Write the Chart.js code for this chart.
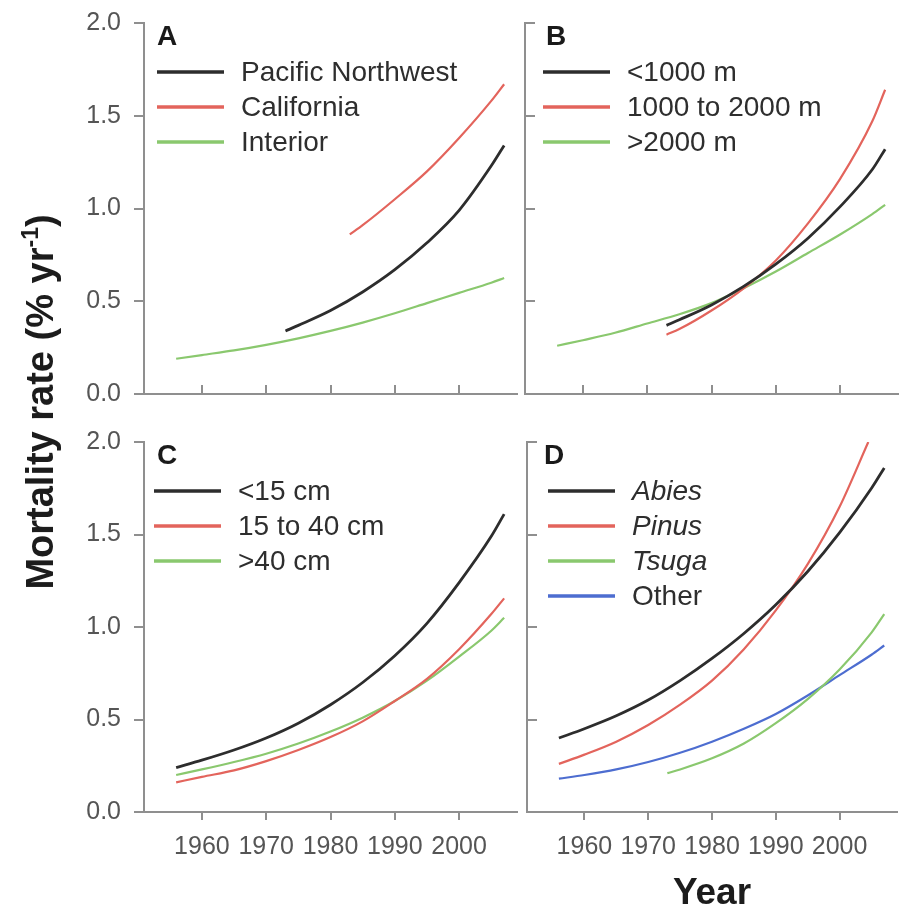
<!DOCTYPE html>
<html>
<head>
<meta charset="utf-8">
<script src="https://cdn.jsdelivr.net/npm/chart.js@4.4.0/dist/chart.umd.min.js"></script>
<style>
  html, body { margin: 0; padding: 0; background: #fff; }
  #wrap { position: relative; width: 906px; height: 912px; overflow: hidden; }
  canvas { position: absolute; }
  #ytitle {
    position: absolute; left: -211px; top: 382px; width: 500px; height: 40px;
    line-height: 40px; text-align: center; white-space: nowrap;
    font: bold 38px "Liberation Sans", Arial, sans-serif; color: #1c1c1c;
    transform: rotate(-90deg); transform-origin: 50% 50%;
  }
  #ytitle sup { font-size: 23px; line-height: 0; vertical-align: 15px; }
</style>
</head>
<body>
<div id="wrap">
  <canvas id="panelA" width="530" height="420" style="left:0;top:0"></canvas>
  <canvas id="panelB" width="453" height="420" style="left:453px;top:0"></canvas>
  <canvas id="panelC" width="530" height="492" style="left:0;top:420px"></canvas>
  <canvas id="panelD" width="453" height="492" style="left:453px;top:420px"></canvas>
  <div id="ytitle">Mortality rate (% yr<sup>-1</sup>)</div>
</div>
<script>
// axis ticks
var yearTicks = [1960, 1970, 1980, 1990, 2000];
var rateTicks = [0, 0.5, 1.0, 1.5, 2.0];

// years at which the fitted curves were read
var fullYears  = [1956, 1960, 1965, 1970, 1975, 1980, 1985, 1990, 1995, 2000, 2005, 2007];
var lateYears  = [1973, 1975, 1980, 1985, 1990, 1995, 2000, 2005, 2007];
var caYears    = [1983, 1985, 1990, 1995, 2000, 2005, 2007];
var pinusYears = [1956, 1960, 1965, 1970, 1975, 1980, 1985, 1990, 1995, 2000, 2004.5];

// A - region
var pnwRate      = [0.34, 0.37, 0.45, 0.55, 0.67, 0.815, 0.99, 1.23, 1.34];
var caRate       = [0.86, 0.91, 1.05, 1.20, 1.38, 1.58, 1.67];
var interiorRate = [0.19, 0.21, 0.235, 0.265, 0.30, 0.34, 0.385, 0.435, 0.49, 0.545, 0.60, 0.625];

// B - elevation
var lowElevRate  = [0.37, 0.40, 0.48, 0.58, 0.70, 0.84, 1.01, 1.21, 1.32];
var midElevRate  = [0.32, 0.35, 0.45, 0.57, 0.72, 0.92, 1.16, 1.47, 1.64];
var highElevRate = [0.26, 0.29, 0.33, 0.38, 0.43, 0.49, 0.57, 0.66, 0.76, 0.86, 0.97, 1.02];

// C - tree size
var smallRate = [0.24, 0.28, 0.335, 0.40, 0.48, 0.58, 0.70, 0.845, 1.02, 1.24, 1.49, 1.61];
var medRate   = [0.16, 0.19, 0.225, 0.275, 0.335, 0.405, 0.49, 0.60, 0.72, 0.88, 1.07, 1.155];
var largeRate = [0.20, 0.23, 0.27, 0.315, 0.37, 0.435, 0.51, 0.60, 0.71, 0.84, 0.98, 1.05];

// D - genus
var abiesRate = [0.40, 0.45, 0.52, 0.605, 0.71, 0.83, 0.965, 1.12, 1.30, 1.51, 1.75, 1.86];
var pinusRate = [0.26, 0.31, 0.38, 0.47, 0.58, 0.71, 0.88, 1.09, 1.34, 1.65, 2.0];
var tsugaRate = [0.21, 0.23, 0.29, 0.37, 0.48, 0.61, 0.77, 0.97, 1.07];
var otherRate = [0.18, 0.20, 0.23, 0.27, 0.32, 0.38, 0.45, 0.53, 0.63, 0.74, 0.85, 0.90];

var black = '#2d2d2d', red = '#e3645c', green = '#8ac86e', blue = '#4d6dd0';
var axisColor = '#8f8f8f';

Chart.defaults.font.family = '"Liberation Sans", Arial, sans-serif';
Chart.defaults.devicePixelRatio = 1;

function pts(years, rates) {
    return years.map(function (yr, i) { return {x: yr, y: rates[i]}; });
}

function series(label, years, rates, color, italic) {
    return {
        label: label,
        data: pts(years, rates),
        borderColor: color,
        borderWidth: color === black ? 2.8 : 2.2,
        pointRadius: 0,
        cubicInterpolationMode: 'monotone',
        italic: !!italic
    };
}

// panel letter + legend drawn inside the plot, top-left
var panelLegend = {
    id: 'panelLegend',
    afterDatasetsDraw: function (chart, args, opts) {
        var ctx = chart.ctx, a = chart.chartArea;
        ctx.save();
        ctx.fillStyle = '#1a1a1a';
        ctx.font = 'bold 28px "Liberation Sans", Arial, sans-serif';
        ctx.textBaseline = 'alphabetic';
        ctx.fillText(opts.letter, a.left + opts.letterX, a.top + 22);
        chart.data.datasets.forEach(function (ds, i) {
            var y = a.top + 49 + i * 35;
            var x0 = a.left + opts.lineX;
            ctx.strokeStyle = ds.borderColor;
            ctx.lineWidth = 3.5;
            ctx.beginPath();
            ctx.moveTo(x0, y);
            ctx.lineTo(x0 + 67, y);
            ctx.stroke();
            ctx.fillStyle = '#2e2e2e';
            ctx.font = (ds.italic ? 'italic ' : '') + '28px "Liberation Sans", Arial, sans-serif';
            ctx.textBaseline = 'middle';
            ctx.fillText(ds.label, x0 + 84, y + 1);
        });
        ctx.restore();
    }
};

function makePanel(id, p) {
    return new Chart(document.getElementById(id), {
        type: 'line',
        data: {datasets: p.datasets},
        plugins: [panelLegend],
        options: {
            responsive: false,
            animation: false,
            layout: {padding: {top: p.top, right: p.right, left: 0, bottom: 0}},
            plugins: {
                legend: {display: false},
                tooltip: {enabled: false},
                panelLegend: {letter: p.letter, letterX: p.letterX, lineX: p.lineX}
            },
            scales: {
                x: {
                    type: 'linear',
                    min: 1951,
                    max: 2009,
                    afterBuildTicks: function (s) { s.ticks = yearTicks.map(function (v) { return {value: v}; }); },
                    afterFit: function (s) { s.height = p.xHeight; s.paddingLeft = 0; s.paddingRight = 0; },
                    border: {color: axisColor, width: 2},
                    grid: {drawOnChartArea: false, drawTicks: true, tickLength: p.xInward ? -9 : 8, color: axisColor, lineWidth: 2},
                    ticks: {display: p.xLabels, autoSkip: false, maxRotation: 0, padding: 12, color: '#555', font: {size: 25},
                            callback: function (v) { return String(v); }},
                    title: {display: !!p.xTitle, text: p.xTitle || '', color: '#1c1c1c', padding: 0,
                            font: {size: 37, weight: 'bold', lineHeight: 1.0}}
                },
                y: {
                    min: 0,
                    max: 2,
                    afterBuildTicks: function (s) { s.ticks = rateTicks.map(function (v) { return {value: v}; }); },
                    afterFit: function (s) { s.width = p.yWidth; s.paddingTop = 0; s.paddingBottom = 0; },
                    border: {color: axisColor, width: 2},
                    grid: {drawOnChartArea: false, drawTicks: true, tickLength: p.yInward ? -10 : 10, color: axisColor, lineWidth: 2},
                    ticks: {display: p.yLabels, padding: 13, color: '#555', font: {size: 25},
                            callback: function (v) { return v.toFixed(1); }}
                }
            }
        }
    });
}

makePanel('panelA', {
    letter: 'A', letterX: 13, lineX: 13,
    top: 23, right: 13, yWidth: 144, xHeight: 26, xInward: true, yInward: false, xLabels: false, yLabels: true,
    datasets: [
        series('Pacific Northwest', lateYears, pnwRate, black),
        series('California', caYears, caRate, red),
        series('Interior', fullYears, interiorRate, green)
    ]
});

makePanel('panelB', {
    letter: 'B', letterX: 21, lineX: 18,
    top: 23, right: 8, yWidth: 72, xHeight: 26, xInward: true, yInward: true, xLabels: false, yLabels: false,
    datasets: [
        series('<1000 m', lateYears, lowElevRate, black),
        series('1000 to 2000 m', lateYears, midElevRate, red),
        series('>2000 m', fullYears, highElevRate, green)
    ]
});

makePanel('panelC', {
    letter: 'C', letterX: 13, lineX: 10,
    top: 22, right: 13, yWidth: 144, xHeight: 100, xInward: false, yInward: false, xLabels: true, yLabels: true,
    datasets: [
        series('<15 cm', fullYears, smallRate, black),
        series('15 to 40 cm', fullYears, medRate, red),
        series('>40 cm', fullYears, largeRate, green)
    ]
});

makePanel('panelD', {
    letter: 'D', letterX: 17, lineX: 21,
    top: 22, right: 9, yWidth: 74, xHeight: 100, xInward: false, yInward: true, xLabels: true, yLabels: false,
    xTitle: 'Year',
    datasets: [
        series('Abies', fullYears, abiesRate, black, true),
        series('Pinus', pinusYears, pinusRate, red, true),
        series('Tsuga', lateYears, tsugaRate, green, true),
        series('Other', fullYears, otherRate, blue)
    ]
});
</script>
</body>
</html>
